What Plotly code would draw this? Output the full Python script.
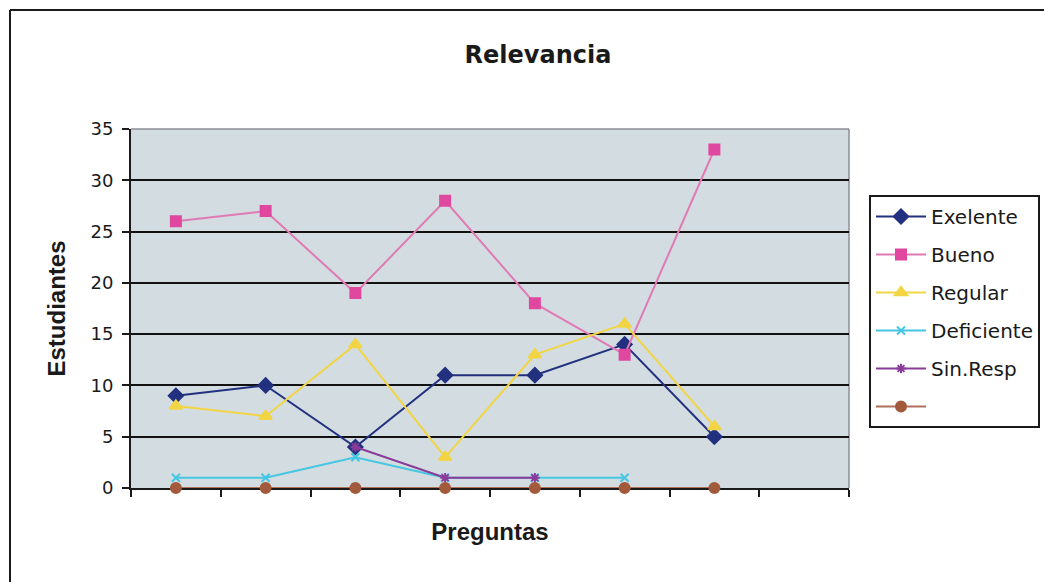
import plotly.graph_objects as go

preguntas = ["P1", "P2", "P3", "P4", "P5", "P6", "P7", "P8"]
exelente = [9, 10, 4, 11, 11, 14, 5, None]
bueno = [26, 27, 19, 28, 18, 13, 33, None]
regular = [8, 7, 14, 3, 13, 16, 6, None]
deficiente = [1, 1, 3, 1, 1, 1, None, None]
sin_resp = [None, None, 4, 1, 1, None, None, None]
sin_nombre = [0, 0, 0, 0, 0, 0, 0, None]
y_ticks = [0, 5, 10, 15, 20, 25, 30, 35]
grid_vals = [5, 10, 15, 20, 25, 30]

OFF = 8  # page body margin
W, H = 1052 - OFF, 582 - OFF
L, R, T, B = 131 - OFF, 849 - OFF, 129 - OFF, 488 - OFF

series = [
    ("Exelente", exelente, "#22317f", "#22317f", "diamond", 11),
    ("Bueno", bueno, "#e0479f", "#e07ab5", "square", 10),
    ("Regular", regular, "#f2d544", "#f2d544", "triangle-up", 11),
    ("Deficiente", deficiente, "#45c6e2", "#45c6e2", "x-thin", 8),
    ("Sin.Resp", sin_resp, "#8a3b9a", "#8a3b9a", "asterisk", 8),
    (" ", sin_nombre, "#a25a3c", "#b0705a", "circle", 10),
]

fig = go.Figure()
for i, (name, vals, mcol, lcol, sym, size) in enumerate(series):
    fig.add_trace(go.Scatter(
        x=preguntas, y=vals, name=name, mode="lines+markers",
        line=dict(color=lcol, width=2),
        marker=dict(symbol=sym, size=size, color=mcol,
                    line=dict(color=mcol, width=2)),
        connectgaps=False, legendgroup=f"g{i}", cliponaxis=False,
    ))

# helper overlay axis for the grid lines (none at the top edge)
fig.add_trace(go.Scatter(x=preguntas, y=[None] * len(preguntas), yaxis="y2",
                         showlegend=False, hoverinfo="skip"))

def px_x(p):
    return (p - OFF - L) / (R - L)

def px_y(p):
    return (B - (p - OFF)) / (B - T)

sans = "DejaVu Sans, Verdana, sans-serif"
lib = "Liberation Sans, Arial, sans-serif"

fig.update_layout(
    width=W, height=H,
    margin=dict(l=L, r=W - R, t=T, b=H - B, pad=0),
    paper_bgcolor="white",
    plot_bgcolor="#d3dce1",
    font=dict(family=sans, size=17, color="#1a1a1a"),
    title=dict(text="<b>Relevancia</b>", x=(538 - OFF) / W, xanchor="center",
               y=1 - (55 - OFF) / H, yanchor="middle",
               font=dict(size=24, family=sans, color="#1a1a1a")),
    xaxis=dict(
        type="category", categoryorder="array", categoryarray=preguntas,
        range=[-0.5, len(preguntas) - 0.5],
        showticklabels=False, ticks="outside", tickson="boundaries",
        ticklen=7, tickwidth=2, tickcolor="#1a1a1a",
        showline=True, linecolor="#1a1a1a", linewidth=2,
        showgrid=False, zeroline=False, layer="below traces",
        title=dict(text="<b>Preguntas</b>", standoff=34,
                   font=dict(size=24, family=lib)),
    ),
    yaxis=dict(
        range=[0, 35], tickvals=y_ticks, ticks="outside", ticklen=7,
        tickwidth=2, tickcolor="#1a1a1a",
        showline=True, linecolor="#1a1a1a", linewidth=2,
        showgrid=False, zeroline=False, ticklabelstandoff=5,
        tickfont=dict(size=18, family=sans), layer="below traces",
        title=dict(text="<b>Estudiantes</b>", standoff=18,
                   font=dict(size=24, family=lib)),
    ),
    yaxis2=dict(
        overlaying="y", range=[0, 35], tickvals=grid_vals,
        showticklabels=False, showgrid=True, gridcolor="#111111",
        gridwidth=2, zeroline=False, showline=False, side="left",
    ),
    legend=dict(
        x=px_x(869), y=px_y(195), xanchor="left", yanchor="top",
        bgcolor="white", bordercolor="#1a1a1a", borderwidth=2,
        font=dict(size=20, family=sans, color="#1a1a1a"),
        tracegroupgap=9, itemwidth=50,
    ),
    showlegend=True,
    shapes=[
        dict(type="line", xref="paper", yref="paper", x0=0, x1=1, y0=1, y1=1,
             line=dict(color="#8a8f93", width=1.5)),
        dict(type="line", xref="paper", yref="paper", x0=1, x1=1, y0=0, y1=1,
             line=dict(color="#8a8f93", width=1.5), layer="below"),
        dict(type="line", xref="paper", yref="paper",
             x0=px_x(10), x1=px_x(1060), y0=px_y(10), y1=px_y(10),
             line=dict(color="#1a1a1a", width=2)),
        dict(type="line", xref="paper", yref="paper",
             x0=px_x(10), x1=px_x(10), y0=px_y(10), y1=px_y(590),
             line=dict(color="#1a1a1a", width=2)),
    ],
)

fig.write_html("out.html")
